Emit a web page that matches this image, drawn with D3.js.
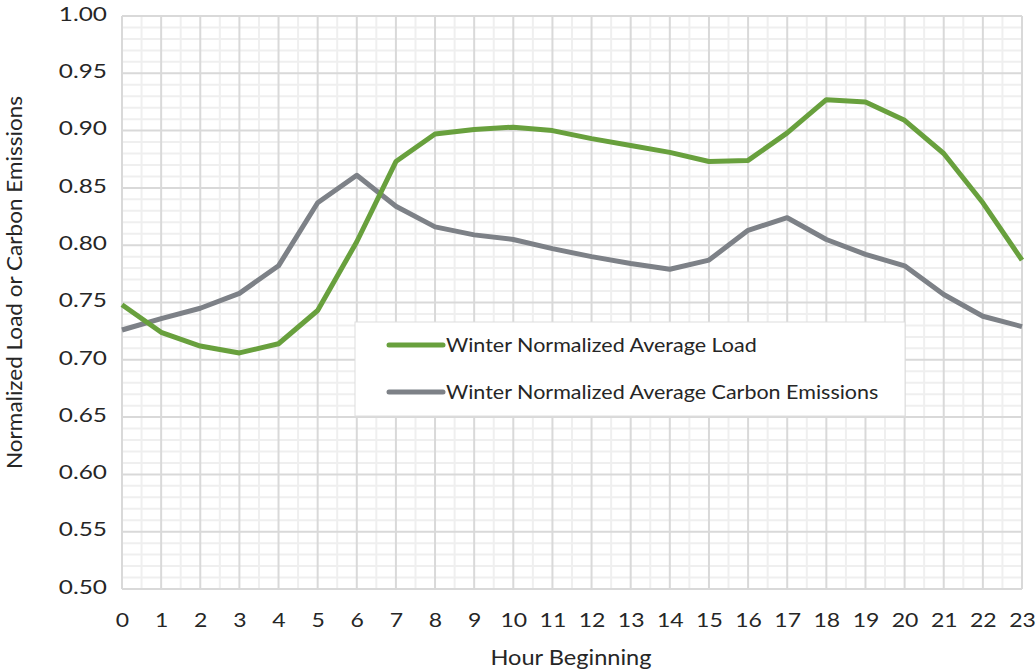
<!DOCTYPE html>
<html>
<head>
<meta charset="utf-8">
<script src="https://cdn.jsdelivr.net/npm/d3@7"></script>
<style>
  html, body { margin: 0; padding: 0; background: #fff; }
  svg text { font-family: Lato, "Open Sans", sans-serif; fill: #262626; }
</style>
</head>
<body>
<svg id="chart" width="1036" height="669"></svg>
<script>
// Hour of day (hour beginning)
const hours = d3.range(0, 24);
// Winter normalized average load, by hour
const loadValues = [0.748, 0.724, 0.712, 0.706, 0.714, 0.743, 0.803, 0.873, 0.897, 0.901, 0.903, 0.900,
                    0.893, 0.887, 0.881, 0.873, 0.874, 0.898, 0.927, 0.925, 0.909, 0.880, 0.837, 0.787];
// Winter normalized average carbon emissions, by hour
const carbonValues = [0.726, 0.736, 0.745, 0.758, 0.782, 0.837, 0.861, 0.834, 0.816, 0.809, 0.805, 0.797,
                      0.790, 0.784, 0.779, 0.787, 0.813, 0.824, 0.805, 0.792, 0.782, 0.757, 0.738, 0.729];
const yTicks = [0.50, 0.55, 0.60, 0.65, 0.70, 0.75, 0.80, 0.85, 0.90, 0.95, 1.00];
const seriesNames = ["Winter Normalized Average Load", "Winter Normalized Average Carbon Emissions"];

const colors = { load: "#68a03d", carbon: "#7d8187" };

const svg = d3.select("#chart");
const plotLeft = 122, plotRight = 1022, plotTop = 16, plotBottom = 589;

const x = d3.scaleLinear().domain([0, 23]).range([plotLeft, plotRight]);
const y = d3.scaleLinear().domain([0.5, 1.0]).range([plotBottom, plotTop]);

// Widen glyphs horizontally for a broader letterform
function widen(sel, factor) {
  sel.each(function () {
    const w = this.getComputedTextLength();
    d3.select(this).attr("textLength", w * factor).attr("lengthAdjust", "spacingAndGlyphs");
  });
}

const grid = svg.append("g");
// minor gridlines: half hours and every 0.01
grid.selectAll("line.vminor").data(d3.range(0.5, 23, 1)).join("line")
  .attr("x1", d => x(d)).attr("x2", d => x(d)).attr("y1", plotTop).attr("y2", plotBottom)
  .attr("stroke", "#efefef").attr("stroke-width", 2);
grid.selectAll("line.hminor").data(d3.range(51, 100).filter(v => v % 5 !== 0).map(v => v / 100)).join("line")
  .attr("x1", plotLeft).attr("x2", plotRight).attr("y1", d => y(d)).attr("y2", d => y(d))
  .attr("stroke", "#efefef").attr("stroke-width", 2);
// major gridlines
grid.selectAll("line.vmajor").data(hours).join("line")
  .attr("x1", d => x(d)).attr("x2", d => x(d)).attr("y1", plotTop).attr("y2", plotBottom)
  .attr("stroke", "#d9d9d9").attr("stroke-width", 2);
grid.selectAll("line.hmajor").data(yTicks).join("line")
  .attr("x1", plotLeft).attr("x2", plotRight).attr("y1", d => y(d)).attr("y2", d => y(d))
  .attr("stroke", "#d9d9d9").attr("stroke-width", 2);

// Axes (labels only; lines come from the grid)
const yAxis = svg.append("g").attr("transform", `translate(${plotLeft},0)`)
  .call(d3.axisLeft(y).tickValues(yTicks).tickFormat(d3.format(".2f")).tickSize(0).tickPadding(15));
yAxis.select(".domain").remove();
yAxis.selectAll("text").style("font-size", "19.5px").attr("fill", "#262626").attr("dy", "0.22em");
widen(yAxis.selectAll("text"), 1.25);

const xAxis = svg.append("g").attr("transform", `translate(0,${plotBottom})`)
  .call(d3.axisBottom(x).tickValues(hours).tickFormat(d3.format("d")).tickSize(0).tickPadding(24));
xAxis.select(".domain").remove();
xAxis.selectAll("text").style("font-size", "19.5px").attr("fill", "#262626");
widen(xAxis.selectAll("text"), 1.18);

// Axis titles
const xTitle = svg.append("text").attr("x", (plotLeft + plotRight) / 2 - 1).attr("y", 665)
  .attr("text-anchor", "middle").style("font-size", "20.5px").text("Hour Beginning");
widen(xTitle, 1.15);
const yTitle = svg.append("text").attr("transform", `translate(22,${(plotTop + plotBottom) / 2 - 20}) rotate(-90)`)
  .attr("text-anchor", "middle").style("font-size", "20.5px").text("Normalized Load or Carbon Emissions");
widen(yTitle, 1.1);

// Series lines
const line = d3.line().x((d, i) => x(hours[i])).y(d => y(d));
svg.append("path").datum(carbonValues).attr("d", line)
  .attr("fill", "none").attr("stroke", colors.carbon).attr("stroke-width", 5).attr("stroke-linejoin", "round");
svg.append("path").datum(loadValues).attr("d", line)
  .attr("fill", "none").attr("stroke", colors.load).attr("stroke-width", 5).attr("stroke-linejoin", "round");

// Legend
const legend = svg.append("g");
legend.append("rect").attr("x", 355).attr("y", 322).attr("width", 550).attr("height", 94)
  .attr("fill", "#fff").attr("stroke", "#dedede").attr("stroke-width", 1);
const legendItems = [
  { name: seriesNames[0], color: colors.load, cy: 345 },
  { name: seriesNames[1], color: colors.carbon, cy: 392 }
];
legendItems.forEach(it => {
  legend.append("line").attr("x1", 389).attr("x2", 443).attr("y1", it.cy).attr("y2", it.cy)
    .attr("stroke", it.color).attr("stroke-width", 5).attr("stroke-linecap", "round");
  const t = legend.append("text").attr("x", 446).attr("y", it.cy).attr("dy", "0.35em")
    .style("font-size", "20px").text(it.name);
  widen(t, 1.075);
});
</script>
</body>
</html>
